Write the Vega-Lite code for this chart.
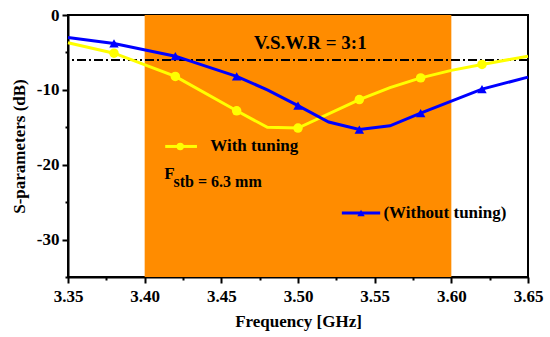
{
"$schema": "https://vega.github.io/schema/vega-lite/v6.json",
"width": 460,
"height": 262,
"autosize": {"type": "none"},
"padding": {"left": 68, "top": 15, "right": 22, "bottom": 60},
"background": "white",
"config": {
  "view": {"stroke": "black", "strokeWidth": 2},
  "axis": {"grid": false, "domainColor": "black", "domainWidth": 2, "tickColor": "black", "tickWidth": 2,
    "labelFont": "Liberation Serif", "labelFontWeight": "bold", "labelFontSize": 17, "labelColor": "black",
    "titleFont": "Liberation Serif", "titleFontWeight": "bold", "titleFontSize": 17, "titleColor": "black"}
},
"datasets": {
  "curves": [
    {"series": "With tuning", "f": 3.35, "db": -3.7, "marked": false},
    {"series": "With tuning", "f": 3.38, "db": -5.1, "marked": true},
    {"series": "With tuning", "f": 3.42, "db": -8.2, "marked": true},
    {"series": "With tuning", "f": 3.46, "db": -12.8, "marked": true},
    {"series": "With tuning", "f": 3.48, "db": -15.0, "marked": false},
    {"series": "With tuning", "f": 3.50, "db": -15.1, "marked": true},
    {"series": "With tuning", "f": 3.54, "db": -11.3, "marked": true},
    {"series": "With tuning", "f": 3.56, "db": -9.7, "marked": false},
    {"series": "With tuning", "f": 3.58, "db": -8.4, "marked": true},
    {"series": "With tuning", "f": 3.60, "db": -7.4, "marked": false},
    {"series": "With tuning", "f": 3.62, "db": -6.6, "marked": true},
    {"series": "With tuning", "f": 3.65, "db": -5.5, "marked": false},
    {"series": "Without tuning", "f": 3.35, "db": -3.0, "marked": false},
    {"series": "Without tuning", "f": 3.38, "db": -3.8, "marked": true},
    {"series": "Without tuning", "f": 3.42, "db": -5.5, "marked": true},
    {"series": "Without tuning", "f": 3.46, "db": -8.2, "marked": true},
    {"series": "Without tuning", "f": 3.48, "db": -10.0, "marked": false},
    {"series": "Without tuning", "f": 3.50, "db": -12.1, "marked": true},
    {"series": "Without tuning", "f": 3.52, "db": -14.3, "marked": false},
    {"series": "Without tuning", "f": 3.54, "db": -15.3, "marked": true},
    {"series": "Without tuning", "f": 3.56, "db": -14.8, "marked": false},
    {"series": "Without tuning", "f": 3.58, "db": -13.1, "marked": true},
    {"series": "Without tuning", "f": 3.62, "db": -9.9, "marked": true},
    {"series": "Without tuning", "f": 3.65, "db": -8.3, "marked": false}
  ],
  "legend": [
    {"series": "With tuning", "f": 3.4134, "f2": 3.4341, "fm": 3.4232, "ft": 3.4428, "db": -17.56, "label": "With tuning"},
    {"series": "Without tuning", "f": 3.5286, "f2": 3.5536, "fm": 3.5411, "ft": 3.5557, "db": -26.44, "label": "(Without tuning)"}
  ]
},
"layer": [
  {
    "data": {"values": [{"f": 3.40, "f2": 3.60, "db": -35, "db2": 0}]},
    "mark": {"type": "rect", "color": "#ff8c00"},
    "encoding": {
      "x": {"field": "f", "type": "quantitative", "title": "Frequency [GHz]",
        "scale": {"domain": [3.35, 3.65], "nice": false, "zero": false},
        "axis": {"values": [3.35, 3.375, 3.4, 3.425, 3.45, 3.475, 3.5, 3.525, 3.55, 3.575, 3.6, 3.625, 3.65],
          "tickCount": 30,
          "labelExpr": "round(datum.value*1000)%50==0 ? format(datum.value,'.2f') : ''",
          "tickSize": {"condition": {"test": "round(datum.value*1000)%50==0", "value": 6}, "value": 3},
          "labelPadding": 5, "titlePadding": 9, "labelFlush": false, "labelOverlap": false}},
      "x2": {"field": "f2"},
      "y": {"field": "db", "type": "quantitative", "title": "S-parameters (dB)",
        "scale": {"domain": [-35, 0], "nice": false, "zero": false},
        "axis": {"values": [0, -5, -10, -15, -20, -25, -30, -35],
          "tickCount": 30,
          "labelExpr": "datum.value == 0 ? '0' : datum.value == -10 ? '-10' : datum.value == -20 ? '-20' : datum.value == -30 ? '-30' : ''",
          "tickSize": {"condition": {"test": "round(abs(datum.value))%10==0", "value": 6}, "value": 3},
          "labelPadding": 3, "titlePadding": 8, "labelOverlap": false, "labelFlush": false}},
      "y2": {"field": "db2"}
    }
  },
  {
    "data": {"values": [{"db": -6.02}]},
    "mark": {"type": "rule", "color": "black", "strokeWidth": 2, "strokeDash": [9, 3, 2, 3]},
    "encoding": {"y": {"field": "db", "type": "quantitative", "title": "S-parameters (dB)"}}
  },
  {
    "data": {"name": "curves"},
    "mark": {"type": "line", "strokeWidth": 3},
    "encoding": {
      "x": {"field": "f", "type": "quantitative", "title": "Frequency [GHz]"},
      "y": {"field": "db", "type": "quantitative", "title": "S-parameters (dB)"},
      "color": {"field": "series", "type": "nominal", "scale": {"domain": ["With tuning", "Without tuning"], "range": ["#ffff00", "#0000ff"]}, "legend": null}
    }
  },
  {
    "data": {"name": "curves"},
    "transform": [{"filter": "datum.marked"}],
    "mark": {"type": "point", "filled": true, "opacity": 1, "size": 90},
    "encoding": {
      "x": {"field": "f", "type": "quantitative", "title": "Frequency [GHz]"},
      "y": {"field": "db", "type": "quantitative", "title": "S-parameters (dB)"},
      "color": {"field": "series", "type": "nominal", "legend": null},
      "shape": {"field": "series", "type": "nominal", "scale": {"domain": ["With tuning", "Without tuning"], "range": ["circle", "triangle-up"]}, "legend": null}
    }
  },
  {
    "data": {"name": "legend"},
    "mark": {"type": "rule", "strokeWidth": 3},
    "encoding": {
      "x": {"field": "f", "type": "quantitative", "title": "Frequency [GHz]"},
      "x2": {"field": "f2"},
      "y": {"field": "db", "type": "quantitative", "title": "S-parameters (dB)"},
      "color": {"field": "series", "type": "nominal", "legend": null}
    }
  },
  {
    "data": {"name": "legend"},
    "mark": {"type": "point", "filled": true, "opacity": 1, "size": 55},
    "encoding": {
      "x": {"field": "fm", "type": "quantitative", "title": "Frequency [GHz]"},
      "y": {"field": "db", "type": "quantitative", "title": "S-parameters (dB)"},
      "color": {"field": "series", "type": "nominal", "legend": null},
      "shape": {"field": "series", "type": "nominal", "legend": null}
    }
  },
  {
    "data": {"name": "legend"},
    "mark": {"type": "text", "align": "left", "baseline": "middle", "font": "Liberation Serif", "fontWeight": "bold", "fontSize": 17, "color": "black"},
    "encoding": {
      "x": {"field": "ft", "type": "quantitative", "title": "Frequency [GHz]"},
      "y": {"field": "db", "type": "quantitative", "title": "S-parameters (dB)"},
      "text": {"field": "label"}
    }
  },
  {
    "data": {"values": [{"f": 3.508, "db": -4.57, "label": "V.S.W.R = 3:1"}]},
    "mark": {"type": "text", "align": "center", "baseline": "alphabetic", "font": "Liberation Serif", "fontWeight": "bold", "fontSize": 19, "color": "black"},
    "encoding": {
      "x": {"field": "f", "type": "quantitative", "title": "Frequency [GHz]"},
      "y": {"field": "db", "type": "quantitative", "title": "S-parameters (dB)"},
      "text": {"field": "label"}
    }
  },
  {
    "data": {"values": [{"f": 3.4128, "db": -21.9, "label": "F"}]},
    "mark": {"type": "text", "align": "left", "baseline": "alphabetic", "font": "Liberation Serif", "fontWeight": "bold", "fontSize": 17, "color": "black"},
    "encoding": {
      "x": {"field": "f", "type": "quantitative", "title": "Frequency [GHz]"},
      "y": {"field": "db", "type": "quantitative", "title": "S-parameters (dB)"},
      "text": {"field": "label"}
    }
  },
  {
    "data": {"values": [{"f": 3.4188, "db": -23.0, "label": "stb = 6.3 mm"}]},
    "mark": {"type": "text", "align": "left", "baseline": "alphabetic", "font": "Liberation Serif", "fontWeight": "bold", "fontSize": 16, "color": "black"},
    "encoding": {
      "x": {"field": "f", "type": "quantitative", "title": "Frequency [GHz]"},
      "y": {"field": "db", "type": "quantitative", "title": "S-parameters (dB)"},
      "text": {"field": "label"}
    }
  }
]
}
